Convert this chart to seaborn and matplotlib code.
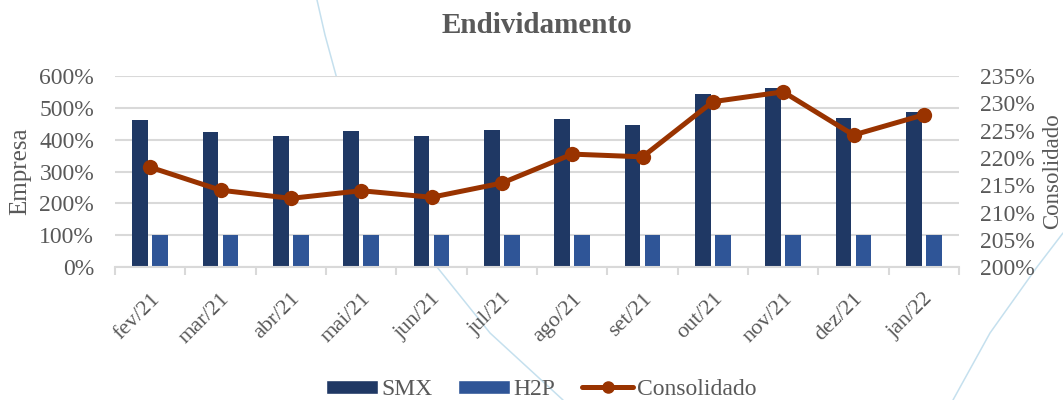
import numpy as np
import pandas as pd
import matplotlib
matplotlib.use('Agg')
import matplotlib.pyplot as plt
from matplotlib.patches import Patch
from matplotlib.lines import Line2D
from matplotlib.ticker import FuncFormatter, FixedLocator
import seaborn as sns

sns.set_theme(style='white')
plt.rcParams['font.family'] = ['Liberation Serif', 'DejaVu Serif']

# -----------------------------------------------------------------------------
# Data
# -----------------------------------------------------------------------------
months = ['fev/21', 'mar/21', 'abr/21', 'mai/21', 'jun/21', 'jul/21',
          'ago/21', 'set/21', 'out/21', 'nov/21', 'dez/21', 'jan/22']
smx = [461, 424, 412, 427, 412, 429, 465, 445, 543, 561, 468, 487]
h2p = [102, 102, 102, 102, 102, 102, 102, 102, 102, 102, 102, 102]
consolidado = [218.3, 214.1, 212.6, 214.0, 212.8, 215.4,
               220.7, 220.2, 230.3, 232.1, 224.2, 227.9]

c_smx = '#1F3864'
c_h2p = '#2F5597'
c_cons = '#993300'
grey = '#595959'
light = '#D9D9D9'

df = pd.DataFrame({
    'mes': months * 2,
    'serie': ['SMX'] * len(months) + ['H2P'] * len(months),
    'valor': smx + h2p,
})

fig = plt.figure(figsize=(10.63, 4.0), dpi=100)
ax = fig.add_axes([0.1082, 0.332, 0.794, 0.478])

sns.barplot(data=df, x='mes', y='valor', hue='serie', order=months,
            hue_order=['SMX', 'H2P'], palette={'SMX': c_smx, 'H2P': c_h2p},
            width=0.57, gap=0.22, saturation=1, linewidth=0, legend=False, ax=ax)

ax.set_xlim(-0.5, len(months) - 0.5)
ax.set_ylim(0, 600)
ax.set_yticks(np.arange(0, 601, 100))
ax.yaxis.set_major_formatter(FuncFormatter(lambda v, p: f'{v:.0f}%'))
ax.grid(axis='y', color=light, linewidth=1.5)
ax.set_axisbelow(True)
ax.set_xlabel('')
ax.set_ylabel('Empresa', fontsize=18, color=grey)
ax.yaxis.set_label_coords(-0.0995, 0.5)
for s in ['top', 'left', 'right']:
    ax.spines[s].set_visible(False)
ax.spines['bottom'].set_color(light)
ax.spines['bottom'].set_linewidth(1.5)

ax.set_xticks(np.arange(len(months)))
ax.set_xticklabels(months, rotation=45, ha='right', rotation_mode='anchor')
ax.xaxis.set_minor_locator(FixedLocator(np.arange(-0.5, len(months), 1.0)))
ax.tick_params(axis='x', which='major', length=0, pad=16, labelsize=16, labelcolor=grey)
ax.tick_params(axis='x', which='minor', bottom=True, length=6, width=1.5, color=light)
ax.tick_params(axis='y', length=0, labelsize=17, labelcolor=grey, pad=15)

# Consolidado on secondary axis
ax2 = ax.twinx()
sns.lineplot(x=np.arange(len(months)), y=consolidado, color=c_cons, linewidth=3.6,
             marker='o', markersize=11, markeredgewidth=0, ax=ax2)
ax2.set_ylim(200, 235)
ax2.set_yticks(np.arange(200, 236, 5))
ax2.yaxis.set_major_formatter(FuncFormatter(lambda v, p: f'{v:.0f}%'))
ax2.tick_params(axis='y', length=0, labelsize=17, labelcolor=grey, pad=15)
ax2.set_ylabel('Consolidado', fontsize=16.5, color=grey, rotation=90)
ax2.yaxis.set_label_coords(1.099, 0.5)
for s in ['top', 'left', 'right', 'bottom']:
    ax2.spines[s].set_visible(False)

fig.text(0.505, 0.937, 'Endividamento', ha='center', va='center',
         fontsize=21, fontweight='bold', color=grey)

handles = [Patch(facecolor=c_smx, label='SMX'),
           Patch(facecolor=c_h2p, label='H2P'),
           Line2D([0], [0], color=c_cons, linewidth=3.6, marker='o',
                  markersize=8, label='Consolidado')]
leg = fig.legend(handles=handles, loc='center', bbox_to_anchor=(0.509, 0.026), ncol=3,
                 frameon=False, fontsize=17, handlelength=2.2, handleheight=0.55,
                 handletextpad=0.15, columnspacing=1.1, borderpad=0)
for t in leg.get_texts():
    t.set_color(grey)

# decorative background curves of the slide
curve1_x = [317, 325, 340, 363, 395, 437, 490, 563]
curve1_y = [0, 35, 90, 133, 200, 267, 333, 400]
curve2_x = [953, 990, 1037, 1063]
curve2_y = [400, 333, 267, 233]
fig.add_artist(Line2D(np.array(curve1_x) / 1063, 1 - np.array(curve1_y) / 400,
                      color='#C5E0EE', linewidth=1.1, zorder=0))
fig.add_artist(Line2D(np.array(curve2_x) / 1063, 1 - np.array(curve2_y) / 400,
                      color='#C5E0EE', linewidth=1.1, zorder=0))

fig.savefig('out.png', dpi=100)
